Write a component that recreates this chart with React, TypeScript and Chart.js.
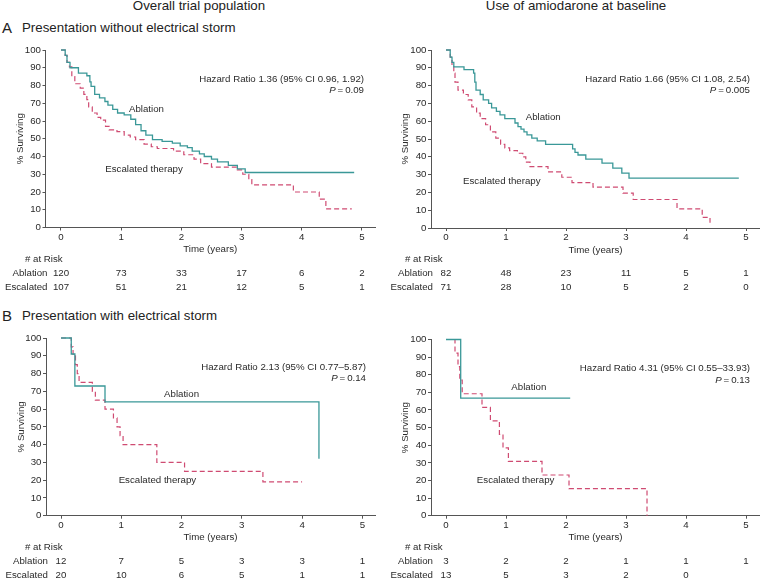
import React, { useEffect, useRef } from "react";
import { Chart, registerables } from "chart.js";

Chart.register(...registerables);

// ---------- data ----------
const X_TICKS = [0, 1, 2, 3, 4, 5];
const Y_TICKS = [0, 10, 20, 30, 40, 50, 60, 70, 80, 90, 100];
const RISK_TIMES = [0, 1, 2, 3, 4, 5];

// A – overall, without electrical storm
const A1_ABL_T = [0, 0.07, 0.1, 0.15, 0.29, 0.43, 0.48, 0.5, 0.56, 0.64, 0.73, 0.78, 0.86, 0.94, 1.05, 1.16, 1.24, 1.33, 1.41, 1.52, 1.68, 1.85, 1.98, 2.1, 2.18, 2.3, 2.38, 2.5, 2.6, 2.78, 2.93, 3.06, 4.87];
const A1_ABL_S = [100, 97, 93, 90, 87, 85.5, 82, 79.5, 75, 73, 71, 69, 66.5, 64.5, 63.5, 61, 58, 54.5, 52, 49.5, 48.5, 47.5, 46, 45, 43, 41.5, 40, 38.5, 37, 35, 33, 31, 31];
const A1_ESC_T = [0, 0.07, 0.1, 0.14, 0.18, 0.23, 0.32, 0.38, 0.43, 0.46, 0.52, 0.6, 0.66, 0.74, 0.8, 0.93, 1.05, 1.15, 1.24, 1.38, 1.5, 1.6, 1.87, 2.04, 2.21, 2.32, 2.5, 2.93, 3.02, 3.12, 3.17, 3.86, 4.29, 4.4, 4.83];
const A1_ESC_S = [100, 97, 93, 90.5, 85, 81, 78.5, 75, 72, 68, 64.5, 62, 60.5, 57, 55, 54, 52, 51, 49.5, 47, 45.5, 44.5, 43, 41, 38.5, 36, 34, 32.5, 30, 27, 24, 20, 16, 10.5, 10.5];
const A1_RISK_ABL = [120, 73, 33, 17, 6, 2];
const A1_RISK_ESC = [107, 51, 21, 12, 5, 1];

// A – amiodarone at baseline
const A2_ABL_T = [0, 0.07, 0.1, 0.13, 0.3, 0.46, 0.48, 0.5, 0.57, 0.62, 0.71, 0.76, 0.84, 0.9, 0.98, 1.15, 1.2, 1.25, 1.3, 1.35, 1.43, 1.52, 1.66, 2.11, 2.15, 2.2, 2.33, 2.6, 2.78, 2.93, 3.05, 4.88];
const A2_ABL_S = [100, 96, 93, 90.5, 89, 87, 82, 77.5, 75, 72, 70, 67.5, 65.5, 63.5, 61.5, 59, 57, 55.5, 54, 52.3, 50.5, 49, 47, 44.5, 42.5, 41, 38.7, 36.4, 33.6, 30.8, 28, 28];
const A2_ESC_T = [0, 0.07, 0.1, 0.13, 0.15, 0.2, 0.29, 0.37, 0.43, 0.51, 0.57, 0.66, 0.74, 0.83, 0.91, 0.98, 1.06, 1.19, 1.28, 1.33, 1.4, 1.7, 1.93, 2.1, 2.45, 2.95, 3.12, 3.85, 4.27, 4.4];
const A2_ESC_S = [100, 96, 91.5, 87, 82, 77.5, 75, 72, 68, 64.5, 61.5, 58, 54, 50.5, 47, 45, 43.5, 42, 40, 37, 34.5, 31.5, 28.5, 25.5, 23, 19.6, 16, 10.8, 6, 3];
const A2_RISK_ABL = [82, 48, 23, 11, 5, 1];
const A2_RISK_ESC = [71, 28, 10, 5, 2, 0];

// B – overall, with electrical storm
const B1_ABL_T = [0, 0.17, 0.23, 0.73, 4.28];
const B1_ABL_S = [100, 91, 73, 64, 32];
const B1_ESC_T = [0, 0.17, 0.2, 0.24, 0.27, 0.3, 0.52, 0.57, 0.73, 0.87, 0.93, 0.98, 1.03, 1.59, 2.05, 3.35, 4.0];
const B1_ESC_S = [100, 95, 90, 85, 80, 75, 70, 65, 60, 55, 50, 45, 40, 30, 25, 19, 19];
const B1_RISK_ABL = [12, 7, 5, 3, 3, 1];
const B1_RISK_ESC = [20, 10, 6, 5, 1, 1];

// B – amiodarone at baseline
const B2_ABL_T = [0, 0.245, 2.07];
const B2_ABL_S = [100, 66.7, 66.7];
const B2_ESC_T = [0, 0.15, 0.2, 0.23, 0.27, 0.6, 0.74, 0.89, 0.95, 1.04, 1.6, 2.05, 3.35];
const B2_ESC_S = [100, 92.3, 84.6, 76.9, 69.2, 61.5, 53.8, 46.2, 38.5, 30.8, 23.1, 15.4, 0];
const B2_RISK_ABL = [3, 2, 2, 1, 1, 1];
const B2_RISK_ESC = [13, 5, 3, 2, 0, null];

// ---------- styling ----------
const FONT = '"Liberation Sans", Arial, Helvetica, sans-serif';
const TEXT = "#2a2a2a";
const AXIS = "#555555";
const TEAL = "#3a9898";
const RED = "#cf4b72";
const SMALL = 9.7;
const XH = 27.8;

type Panel = {
  left: number; top: number; width: number; height: number;
  area: { left: number; top: number; right: number; bottom: number };
  xMin: number; xMax: number;
  ablT: number[]; ablS: number[]; escT: number[]; escS: number[];
  riskAbl: (number | null)[]; riskEsc: (number | null)[];
  hr: string; p: string; hrRight: number;
  ablLabel: [number, number]; escLabel: [number, number];
  yTitleX: number; riskX: number;
};

const PANELS: Panel[] = [
  {
    left: 0, top: 40, width: 380, height: 260,
    area: { left: 45.5, top: 50, right: 375, bottom: 227.5 },
    xMin: -0.257, xMax: 5.216,
    ablT: A1_ABL_T, ablS: A1_ABL_S, escT: A1_ESC_T, escS: A1_ESC_S,
    riskAbl: A1_RISK_ABL, riskEsc: A1_RISK_ESC,
    hr: "Hazard Ratio 1.36 (95% CI 0.96, 1.92)", p: "0.09", hrRight: 364,
    ablLabel: [1.42, 66.3], escLabel: [1.38, 32.7],
    yTitleX: 20, riskX: 25,
  },
  {
    left: 380, top: 40, width: 380, height: 260,
    area: { left: 431, top: 50, right: 760, bottom: 228 },
    xMin: -0.25, xMax: 5.233,
    ablT: A2_ABL_T, ablS: A2_ABL_S, escT: A2_ESC_T, escS: A2_ESC_S,
    riskAbl: A2_RISK_ABL, riskEsc: A2_RISK_ESC,
    hr: "Hazard Ratio 1.66 (95% CI 1.08, 2.54)", p: "0.005", hrRight: 750,
    ablLabel: [1.62, 62], escLabel: [0.93, 26.5],
    yTitleX: 405, riskX: 405,
  },
  {
    left: 0, top: 300, width: 380, height: 280,
    area: { left: 46, top: 338, right: 375, bottom: 515.7 },
    xMin: -0.249, xMax: 5.21,
    ablT: B1_ABL_T, ablS: B1_ABL_S, escT: B1_ESC_T, escS: B1_ESC_S,
    riskAbl: B1_RISK_ABL, riskEsc: B1_RISK_ESC,
    hr: "Hazard Ratio 2.13 (95% CI 0.77\u20135.87)", p: "0.14", hrRight: 366,
    ablLabel: [2.0, 68.2], escLabel: [1.6, 19.7],
    yTitleX: 21, riskX: 25,
  },
  {
    left: 380, top: 300, width: 380, height: 280,
    area: { left: 431, top: 339.5, right: 760, bottom: 515.7 },
    xMin: -0.25, xMax: 5.233,
    ablT: B2_ABL_T, ablS: B2_ABL_S, escT: B2_ESC_T, escS: B2_ESC_S,
    riskAbl: B2_RISK_ABL, riskEsc: B2_RISK_ESC,
    hr: "Hazard Ratio 4.31 (95% CI 0.55\u201333.93)", p: "0.13", hrRight: 750,
    ablLabel: [1.38, 72.7], escLabel: [1.16, 19.8],
    yTitleX: 405, riskX: 405,
  },
];

function KMPanel({ cfg }: { cfg: Panel }) {
  const ref = useRef<HTMLCanvasElement | null>(null);
  useEffect(() => {
    if (!ref.current) return;
    const yW = cfg.area.left - cfg.left;
    const padT = cfg.area.top - cfg.top;
    const padR = cfg.left + cfg.width - cfg.area.right;
    const padB = cfg.top + cfg.height - cfg.area.bottom - XH;
    const font = { family: FONT, size: SMALL };
    const lh = SMALL * 1.2;

    const annot = {
      id: "kmAnnot",
      afterDraw(chart: any) {
        const ctx = chart.ctx as CanvasRenderingContext2D;
        const xs = chart.scales.x;
        const ys = chart.scales.y;
        const ca = chart.chartArea;
        ctx.save();
        ctx.fillStyle = TEXT;
        ctx.font = `${SMALL}px ${FONT}`;
        ctx.textBaseline = "middle";
        // curve labels
        ctx.textAlign = "center";
        ctx.fillText("Ablation", xs.getPixelForValue(cfg.ablLabel[0]), ys.getPixelForValue(cfg.ablLabel[1]));
        ctx.fillText("Escalated therapy", xs.getPixelForValue(cfg.escLabel[0]), ys.getPixelForValue(cfg.escLabel[1]));
        // hazard ratio
        const hx = cfg.hrRight - cfg.left;
        ctx.textAlign = "right";
        ctx.fillText(cfg.hr, hx, ca.top + 29);
        const rest = "\u2009=\u2009" + cfg.p;
        const w = ctx.measureText(rest).width;
        ctx.fillText(rest, hx, ca.top + 40.5);
        ctx.font = `italic ${SMALL}px ${FONT}`;
        ctx.fillText("P", hx - w, ca.top + 40.5);
        ctx.font = `${SMALL}px ${FONT}`;
        // at-risk table
        ctx.textAlign = "left";
        ctx.fillText("# at Risk", cfg.riskX - cfg.left, ca.bottom + 31.5);
        ctx.textAlign = "right";
        ctx.fillText("Ablation", ca.left + 2, ca.bottom + 45.5);
        ctx.fillText("Escalated", ca.left + 2, ca.bottom + 59.8);
        ctx.textAlign = "center";
        RISK_TIMES.forEach((t, i) => {
          const px = xs.getPixelForValue(t);
          const a = cfg.riskAbl[i];
          const e = cfg.riskEsc[i];
          if (a !== null && a !== undefined) ctx.fillText(String(a), px, ca.bottom + 45.5);
          if (e !== null && e !== undefined) ctx.fillText(String(e), px, ca.bottom + 59.8);
        });
        ctx.restore();
      },
    };

    const chart = new Chart(ref.current, {
      type: "line",
      data: {
        datasets: [
          {
            label: "Ablation",
            data: cfg.ablT.map((t, i) => ({ x: t, y: cfg.ablS[i] })),
            borderColor: TEAL,
            borderWidth: 1.3,
            pointRadius: 0,
            stepped: "before",
            fill: false,
            clip: false as any,
          },
          {
            label: "Escalated therapy",
            data: cfg.escT.map((t, i) => ({ x: t, y: cfg.escS[i] })),
            borderColor: RED,
            borderWidth: 1.2,
            borderDash: [5, 3],
            pointRadius: 0,
            stepped: "before",
            fill: false,
            clip: false as any,
          },
        ],
      },
      options: {
        animation: false,
        responsive: false,
        maintainAspectRatio: false,
        layout: { padding: { left: 0, top: padT, right: padR, bottom: padB } },
        plugins: { legend: { display: false }, tooltip: { enabled: false } },
        scales: {
          x: {
            type: "linear",
            min: cfg.xMin,
            max: cfg.xMax,
            afterBuildTicks: (s: any) => { s.ticks = X_TICKS.map((v) => ({ value: v })); },
            afterFit: (s: any) => { s.height = XH; },
            grid: { drawOnChartArea: false, drawTicks: true, tickLength: 3, color: AXIS, lineWidth: 1 },
            border: { display: true, color: AXIS, width: 1 },
            ticks: { font, color: TEXT, padding: 1, maxRotation: 0, autoSkip: false },
            title: { display: true, text: "Time (years)", font, color: TEXT, padding: 0 },
          },
          y: {
            type: "linear",
            min: 0,
            max: 100,
            afterBuildTicks: (s: any) => { s.ticks = Y_TICKS.map((v) => ({ value: v })); },
            afterFit: (s: any) => { s.width = yW; },
            grid: { drawOnChartArea: false, drawTicks: true, tickLength: 3, color: AXIS, lineWidth: 1 },
            border: { display: true, color: AXIS, width: 1 },
            ticks: { font, color: TEXT, padding: 1.5, autoSkip: false },
            title: {
              display: true,
              text: "% Surviving",
              font,
              color: TEXT,
              padding: { top: cfg.yTitleX - cfg.left - lh / 2, bottom: 0 },
            },
          },
        },
      },
      plugins: [annot],
    } as any);
    return () => chart.destroy();
  }, [cfg]);

  return (
    <canvas
      ref={ref}
      width={cfg.width}
      height={cfg.height}
      style={{ position: "absolute", left: cfg.left, top: cfg.top, width: cfg.width, height: cfg.height }}
    />
  );
}

const headStyle: React.CSSProperties = {
  position: "absolute",
  fontFamily: FONT,
  fontSize: 13.3,
  lineHeight: "16px",
  color: "#222",
  whiteSpace: "nowrap",
};

export default function App() {
  return (
    <div style={{ position: "absolute", left: 0, top: 0, width: 760, height: 580, background: "#fff", overflow: "hidden" }}>
      <div style={{ ...headStyle, left: 0, width: 398, top: -2, textAlign: "center" }}>Overall trial population</div>
      <div style={{ ...headStyle, left: 380, width: 392, top: -2, textAlign: "center" }}>Use of amiodarone at baseline</div>
      <div style={{ ...headStyle, left: 2, top: 19, fontSize: 15, lineHeight: "18px" }}>A</div>
      <div style={{ ...headStyle, left: 22, top: 20 }}>Presentation without electrical storm</div>
      <div style={{ ...headStyle, left: 2, top: 307, fontSize: 15, lineHeight: "18px" }}>B</div>
      <div style={{ ...headStyle, left: 22, top: 308 }}>Presentation with electrical storm</div>
      {PANELS.map((p, i) => (
        <KMPanel key={i} cfg={p} />
      ))}
    </div>
  );
}
